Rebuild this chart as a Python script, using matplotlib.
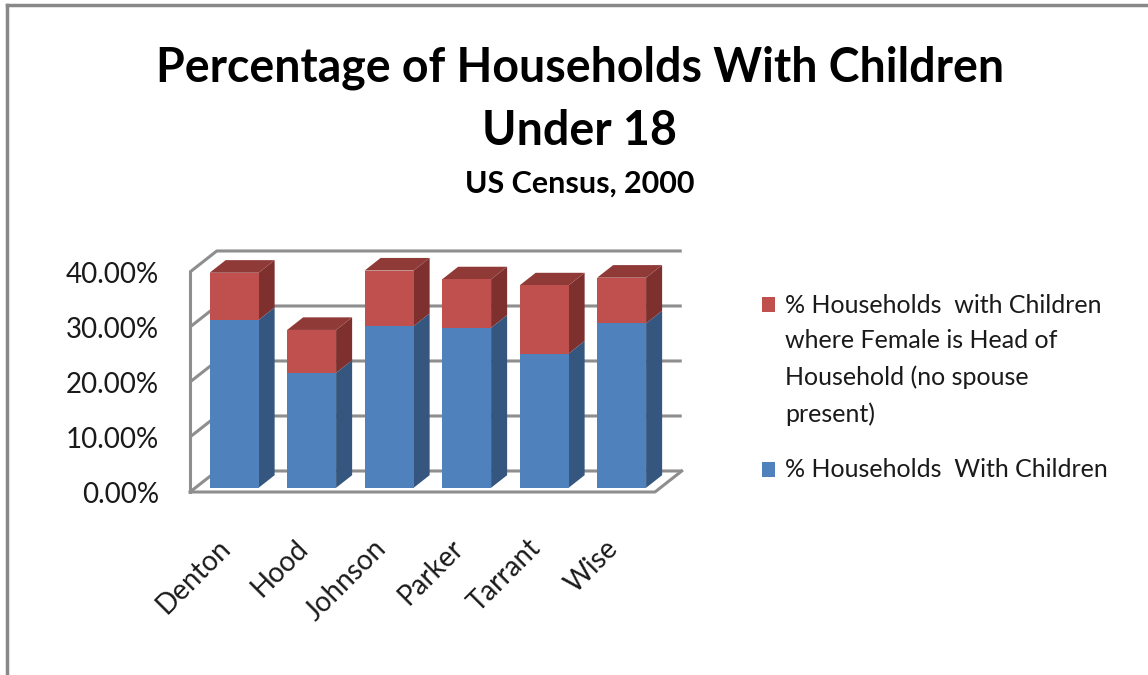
import matplotlib
matplotlib.use("Agg")
import matplotlib.pyplot as plt
from matplotlib.patches import Polygon

plt.rcParams['font.family'] = ['Lato', 'DejaVu Sans']

# ---- data ----
categories = ["Denton", "Hood", "Johnson", "Parker", "Tarrant", "Wise"]
pct_with_children = [30.5, 20.9, 29.4, 29.1, 24.4, 29.9]
pct_female_head = [8.6, 7.8, 10.1, 8.8, 12.4, 8.3]
series_names = ["% Households  with Children\nwhere Female is Head of\nHousehold (no spouse\npresent)",
                "% Households  With Children"]
yticks = [0, 10, 20, 30, 40]
title_lines = ["Percentage of Households With Children", "Under 18"]
subtitle = "US Census, 2000"

# ---- style / layout ----
W, H = 1148, 675
fig = plt.figure(figsize=(W / 100, H / 100), dpi=100)
ax = fig.add_axes([0, 0, 1, 1])
X0, XS = 190.0, 77.5      # pixel of category origin, pixels per category
Y0, YS = 492.0, 5.5       # pixel (from top) of 0%, pixels per percent
ax.set_xlim(-X0 / XS, (W - X0) / XS)
ax.set_ylim((Y0 - H) / YS, Y0 / YS)
ax.axis('off')

DX, DY = 0.345, 3.82      # full depth offset (category units, percent)
YMAX = 40
N = len(categories)
grid_col = '#8e8e8e'
txt_col = '#1a1a1a'


def P(x, y, d):
    return (x + d * DX, y + d * DY)


# walls & gridlines
for t in yticks:
    a, b, c = P(0, t, 0), P(0, t, 1), P(N, t, 1)
    ax.plot([a[0], b[0], c[0]], [a[1], b[1], c[1]], color=grid_col, lw=2.2,
            solid_capstyle='butt', zorder=1)
a, b = P(0, 0, 0), P(0, YMAX, 0)
ax.plot([a[0], b[0]], [a[1], b[1]], color=grid_col, lw=2.2, zorder=1)
a, b, c = P(0, 0, 0), P(N, 0, 0), P(N, 0, 1)
ax.plot([a[0], b[0], c[0]], [a[1], b[1], c[1]], color=grid_col, lw=2.2, zorder=1)

# bars
w = 0.632
d0, d1 = 0.2, 0.8
faces = [("#4F81BD", "#35577F", "#3E6797"), ("#C0504D", "#7D302E", "#8F3A37")]
for i in range(N):
    bottom = 0.0
    segs = [pct_with_children[i], pct_female_head[i]]
    for k, v in enumerate(segs):
        front, side, top = faces[k]
        xl, xr = i + 0.5 - w / 2, i + 0.5 + w / 2
        y1 = bottom + v
        fr = [P(xl, bottom, d0), P(xr, bottom, d0), P(xr, y1, d0), P(xl, y1, d0)]
        sd = [P(xr, bottom, d0), P(xr, bottom, d1), P(xr, y1, d1), P(xr, y1, d0)]
        ax.add_patch(Polygon(sd, closed=True, fc=side, ec='none', zorder=3))
        ax.add_patch(Polygon(fr, closed=True, fc=front, ec='none', zorder=4))
        if k == len(segs) - 1:
            tp = [P(xl, y1, d0), P(xr, y1, d0), P(xr, y1, d1), P(xl, y1, d1)]
            ax.add_patch(Polygon(tp, closed=True, fc=top, ec='none', zorder=3))
        bottom = y1

# y tick labels
for t in yticks:
    ax.text(-31 / XS, t - 0.55, f"{t:.2f}%", ha='right', va='center',
            fontsize=20, color=txt_col)

# x tick labels
for i, c in enumerate(categories):
    ax.text(i + 0.5 - 2 / XS, -52 / YS, c, rotation=45, rotation_mode='anchor',
            ha='right', va='center', fontsize=20, color=txt_col)

# titles
fig.text(580 / W, 1 - 81 / H, title_lines[0], ha='center', va='baseline',
         fontsize=33.5, fontweight='bold')
fig.text(580 / W, 1 - 145 / H, title_lines[1], ha='center', va='baseline',
         fontsize=33.5, fontweight='bold')
fig.text(580 / W, 1 - 193 / H, subtitle, ha='center', va='baseline',
         fontsize=22, fontweight='bold')

# legend (first_baseline, line pitch in px)
leg_colors = [faces[1][0], faces[0][0]]
leg_first_base = [312, 477]
pitch = 36.5
for col, ypix, name in zip(leg_colors, leg_first_base, series_names):
    fig.patches.append(plt.Rectangle((762 / W, 1 - ypix / H), 13 / W, 15 / H,
                                     transform=fig.transFigure, fc=col, ec='none'))
    nlines = name.count('\n')
    fig.text(785 / W, 1 - (ypix + nlines * pitch) / H, name, ha='left', va='baseline',
             fontsize=18, linespacing=1.66, color=txt_col)

# frame
fig.add_artist(plt.Line2D([7 / W, 1], [1 - 5 / H, 1 - 5 / H], transform=fig.transFigure,
                          color='#888888', lw=2.5))
fig.add_artist(plt.Line2D([7 / W, 7 / W], [0, 1 - 5 / H], transform=fig.transFigure,
                          color='#888888', lw=2.5))

fig.savefig("out.png", dpi=100)
